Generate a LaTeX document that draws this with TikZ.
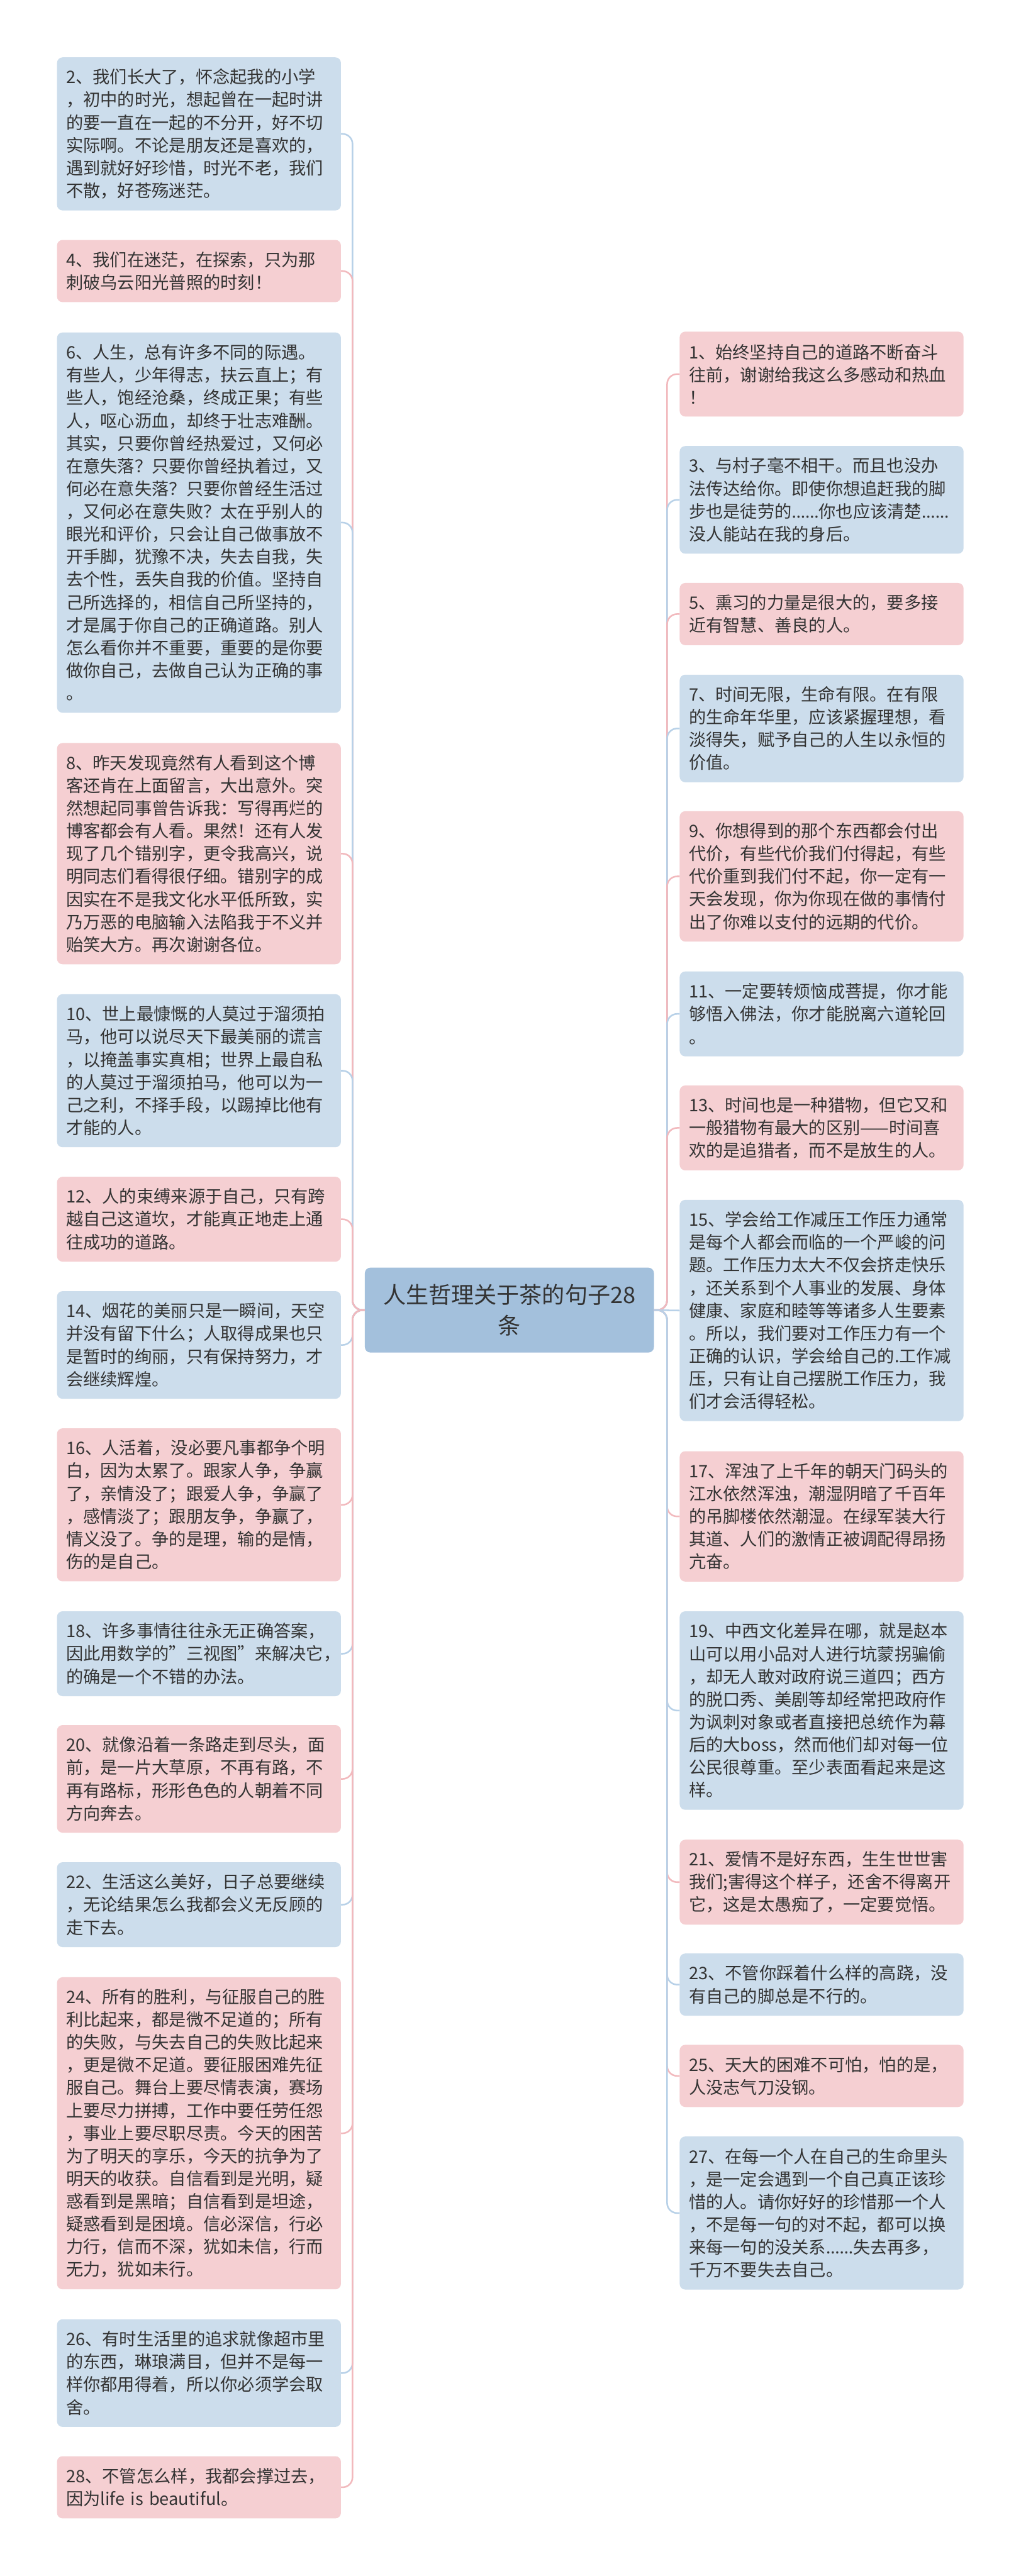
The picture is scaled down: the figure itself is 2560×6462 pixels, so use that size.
\documentclass[tikz,border=0pt]{standalone}
\usepackage{fontspec}
\setmainfont{Noto Sans CJK SC}
\newfontfamily\dotsfont{Noto Sans}
\definecolor{textgray}{HTML}{333333}
\definecolor{bluefill}{HTML}{CCDDEC}
\definecolor{pinkfill}{HTML}{F5CFD2}
\definecolor{rootfill}{HTML}{A3C0DC}
\definecolor{bluelink}{HTML}{B8D1E8}
\definecolor{pinklink}{HTML}{F2B9BD}
\begin{document}
\begin{tikzpicture}[line join=round,
  quote/.style={rectangle,rounded corners=14bp,text width=666bp,inner xsep=23bp,inner ysep=0bp,
    align=left,text=textgray,font=\fontsize{43bp}{57bp}\selectfont},
  bluequote/.style={quote,fill=bluefill},
  pinkquote/.style={quote,fill=pinkfill},
  nrows/.style={minimum height={(57*#1+42)*1bp}},
  titlebox/.style={rectangle,rounded corners=14bp,fill=rootfill,text=textgray,align=center,
    minimum width=725bp,minimum height=213bp,font=\fontsize{57bp}{77bp}\selectfont},
  bluelinkline/.style={draw=bluelink,line width=4bp,rounded corners=25bp},
  pinklinkline/.style={draw=pinklink,line width=4bp,rounded corners=25bp},
]
%%
\path [use as bounding box,fill=white] (0bp,0bp) rectangle (2560bp,6462bp);
\node (title) at (1277.5bp,3175.5bp) [titlebox] {人生哲理关于茶的句子28\\条};
  \coordinate (trunk_l) at (884bp,3175.5bp);
  \coordinate (trunk_r) at (1673bp,3175.5bp);
  \node (quote_2) at (499bp,6126bp) [bluequote,nrows=6] {2、我们长大了，怀念起我的小学\\，初中的时光，想起曾在一起时讲\\的要一直在一起的不分开，好不切\\实际啊。不论是朋友还是喜欢的，\\遇到就好好珍惜，时光不老，我们\\不散，好苍殇迷茫。};
  \node (quote_4) at (499bp,5782bp) [pinkquote,nrows=2] {4、我们在迷茫，在探索，只为那\\刺破乌云阳光普照的时刻！};
  \node (quote_6) at (499bp,5151bp) [bluequote,nrows=16] {6、人生，总有许多不同的际遇。\\有些人，少年得志，扶云直上；有\\些人，饱经沧桑，终成正果；有些\\人，呕心沥血，却终于壮志难酬。\\其实，只要你曾经热爱过，又何必\\在意失落？只要你曾经执着过，又\\何必在意失落？只要你曾经生活过\\，又何必在意失败？太在乎别人的\\眼光和评价，只会让自己做事放不\\开手脚，犹豫不决，失去自我，失\\去个性，丢失自我的价值。坚持自\\己所选择的，相信自己所坚持的，\\才是属于你自己的正确道路。别人\\怎么看你并不重要，重要的是你要\\做你自己，去做自己认为正确的事\\。};
  \node (quote_8) at (499bp,4320.5bp) [pinkquote,nrows=9] {8、昨天发现竟然有人看到这个博\\客还肯在上面留言，大出意外。突\\然想起同事曾告诉我：写得再烂的\\博客都会有人看。果然！还有人发\\现了几个错别字，更令我高兴，说\\明同志们看得很仔细。错别字的成\\因实在不是我文化水平低所致，实\\乃万恶的电脑输入法陷我于不义并\\贻笑大方。再次谢谢各位。};
  \node (quote_10) at (499bp,3776bp) [bluequote,nrows=6] {10、世上最慷慨的人莫过于溜须拍\\马，他可以说尽天下最美丽的谎言\\，以掩盖事实真相；世界上最自私\\的人莫过于溜须拍马，他可以为一\\己之利，不择手段，以踢掉比他有\\才能的人。};
  \node (quote_12) at (499bp,3403.5bp) [pinkquote,nrows=3] {12、人的束缚来源于自己，只有跨\\越自己这道坎，才能真正地走上通\\往成功的道路。};
  \node (quote_14) at (499bp,3088bp) [bluequote,nrows=4] {14、烟花的美丽只是一瞬间，天空\\并没有留下什么；人取得成果也只\\是暂时的绚丽，只有保持努力，才\\会继续辉煌。};
  \node (quote_16) at (499bp,2687bp) [pinkquote,nrows=6] {16、人活着，没必要凡事都争个明\\白，因为太累了。跟家人争，争赢\\了，亲情没了；跟爱人争，争赢了\\，感情淡了；跟朋友争，争赢了，\\情义没了。争的是理，输的是情，\\伤的是自己。};
  \node (quote_18) at (499bp,2313.5bp) [bluequote,nrows=3] {18、许多事情往往永无正确答案，\\因此用数学的"三视图"来解决它，\\的确是一个不错的办法。};
  \node (quote_20) at (499bp,1999.5bp) [pinkquote,nrows=4] {20、就像沿着一条路走到尽头，面\\前，是一片大草原，不再有路，不\\再有路标，形形色色的人朝着不同\\方向奔去。};
  \node (quote_22) at (499bp,1684bp) [bluequote,nrows=3] {22、生活这么美好，日子总要继续\\，无论结果怎么我都会义无反顾的\\走下去。};
  \node (quote_24) at (499bp,1110.5bp) [pinkquote,nrows=13] {24、所有的胜利，与征服自己的胜\\利比起来，都是微不足道的；所有\\的失败，与失去自己的失败比起来\\，更是微不足道。要征服困难先征\\服自己。舞台上要尽情表演，赛场\\上要尽力拼搏，工作中要任劳任怨\\，事业上要尽职尽责。今天的困苦\\为了明天的享乐，今天的抗争为了\\明天的收获。自信看到是光明，疑\\惑看到是黑暗；自信看到是坦途，\\疑惑看到是困境。信必深信，行必\\力行，信而不深，犹如未信，行而\\无力，犹如未行。};
  \node (quote_26) at (499bp,509bp) [bluequote,nrows=4] {26、有时生活里的追求就像超市里\\的东西，琳琅满目，但并不是每一\\样你都用得着，所以你必须学会取\\舍。};
  \node (quote_28) at (499bp,222.5bp) [pinkquote,nrows=2] {28、不管怎么样，我都会撑过去，\\因为life is beautiful。};
  \node (quote_1) at (2060.5bp,5523.5bp) [pinkquote,nrows=3] {1、始终坚持自己的道路不断奋斗\\往前，谢谢给我这么多感动和热血\\！};
  \node (quote_3) at (2060.5bp,5208bp) [bluequote,nrows=4] {3、与村子毫不相干。而且也没办\\法传达给你。即使你想追赶我的脚\\步也是徒劳的{\dotsfont ……}你也应该清楚{\dotsfont ……}\\没人能站在我的身后。};
  \node (quote_5) at (2060.5bp,4921.5bp) [pinkquote,nrows=2] {5、熏习的力量是很大的，要多接\\近有智慧、善良的人。};
  \node (quote_7) at (2060.5bp,4634.5bp) [bluequote,nrows=4] {7、时间无限，生命有限。在有限\\的生命年华里，应该紧握理想，看\\淡得失，赋予自己的人生以永恒的\\价值。};
  \node (quote_9) at (2060.5bp,4263.5bp) [pinkquote,nrows=5] {9、你想得到的那个东西都会付出\\代价，有些代价我们付得起，有些\\代价重到我们付不起，你一定有一\\天会发现，你为你现在做的事情付\\出了你难以支付的远期的代价。};
  \node (quote_11) at (2060.5bp,3918.5bp) [bluequote,nrows=3] {11、一定要转烦恼成菩提，你才能\\够悟入佛法，你才能脱离六道轮回\\。};
  \node (quote_13) at (2060.5bp,3632.5bp) [pinkquote,nrows=3] {13、时间也是一种猎物，但它又和\\一般猎物有最大的区别——时间喜\\欢的是追猎者，而不是放生的人。};
  \node (quote_15) at (2060.5bp,3174.5bp) [bluequote,nrows=9] {15、学会给工作减压工作压力通常\\是每个人都会而临的一个严峻的问\\题。工作压力太大不仅会挤走快乐\\，还关系到个人事业的发展、身体\\健康、家庭和睦等等诸多人生要素\\。所以，我们要对工作压力有一个\\正确的认识，学会给自己的.工作减\\压，只有让自己摆脱工作压力，我\\们才会活得轻松。};
  \node (quote_17) at (2060.5bp,2658bp) [pinkquote,nrows=5] {17、浑浊了上千年的朝天门码头的\\江水依然浑浊，潮湿阴暗了千百年\\的吊脚楼依然潮湿。在绿军装大行\\其道、人们的激情正被调配得昂扬\\亢奋。};
  \node (quote_19) at (2060.5bp,2171bp) [bluequote,nrows=8] {19、中西文化差异在哪，就是赵本\\山可以用小品对人进行坑蒙拐骗偷\\，却无人敢对政府说三道四；西方\\的脱口秀、美剧等却经常把政府作\\为讽刺对象或者直接把总统作为幕\\后的大boss，然而他们却对每一位\\公民很尊重。至少表面看起来是这\\样。};
  \node (quote_21) at (2060.5bp,1740.5bp) [pinkquote,nrows=3] {21、爱情不是好东西，生生世世害\\我们;害得这个样子，还舍不得离开\\它，这是太愚痴了，一定要觉悟。};
  \node (quote_23) at (2060.5bp,1483.5bp) [bluequote,nrows=2] {23、不管你踩着什么样的高跷，没\\有自己的脚总是不行的。};
  \node (quote_25) at (2060.5bp,1254.5bp) [pinkquote,nrows=2] {25、天大的困难不可怕，怕的是，\\人没志气刀没钢。};
  \node (quote_27) at (2060.5bp,910.5bp) [bluequote,nrows=6] {27、在每一个人在自己的生命里头\\，是一定会遇到一个自己真正该珍\\惜的人。请你好好的珍惜那一个人\\，不是每一句的对不起，都可以换\\来每一句的没关系{\dotsfont ……}失去再多，\\千万不要失去自己。};
  \draw [bluelinkline] (title.west) -- (trunk_l) |- (quote_2.east);
  \draw [pinklinkline] (title.west) -- (trunk_l) |- (quote_4.east);
  \draw [bluelinkline] (title.west) -- (trunk_l) |- (quote_6.east);
  \draw [pinklinkline] (title.west) -- (trunk_l) |- (quote_8.east);
  \draw [bluelinkline] (title.west) -- (trunk_l) |- (quote_10.east);
  \draw [pinklinkline] (title.west) -- (trunk_l) |- (quote_12.east);
  \draw [bluelinkline] (title.west) -- (trunk_l) |- (quote_14.east);
  \draw [pinklinkline] (title.west) -- (trunk_l) |- (quote_16.east);
  \draw [bluelinkline] (title.west) -- (trunk_l) |- (quote_18.east);
  \draw [pinklinkline] (title.west) -- (trunk_l) |- (quote_20.east);
  \draw [bluelinkline] (title.west) -- (trunk_l) |- (quote_22.east);
  \draw [pinklinkline] (title.west) -- (trunk_l) |- (quote_24.east);
  \draw [bluelinkline] (title.west) -- (trunk_l) |- (quote_26.east);
  \draw [pinklinkline] (title.west) -- (trunk_l) |- (quote_28.east);
  \draw [pinklinkline] (title.east) -- (trunk_r) |- (quote_1.west);
  \draw [bluelinkline] (title.east) -- (trunk_r) |- (quote_3.west);
  \draw [pinklinkline] (title.east) -- (trunk_r) |- (quote_5.west);
  \draw [bluelinkline] (title.east) -- (trunk_r) |- (quote_7.west);
  \draw [pinklinkline] (title.east) -- (trunk_r) |- (quote_9.west);
  \draw [bluelinkline] (title.east) -- (trunk_r) |- (quote_11.west);
  \draw [pinklinkline] (title.east) -- (trunk_r) |- (quote_13.west);
  \draw [bluelinkline] (title.east) -- (quote_15.west);
  \draw [pinklinkline] (title.east) -- (trunk_r) |- (quote_17.west);
  \draw [bluelinkline] (title.east) -- (trunk_r) |- (quote_19.west);
  \draw [pinklinkline] (title.east) -- (trunk_r) |- (quote_21.west);
  \draw [bluelinkline] (title.east) -- (trunk_r) |- (quote_23.west);
  \draw [pinklinkline] (title.east) -- (trunk_r) |- (quote_25.west);
  \draw [bluelinkline] (title.east) -- (trunk_r) |- (quote_27.west);
%
\end{tikzpicture}
\end{document}
